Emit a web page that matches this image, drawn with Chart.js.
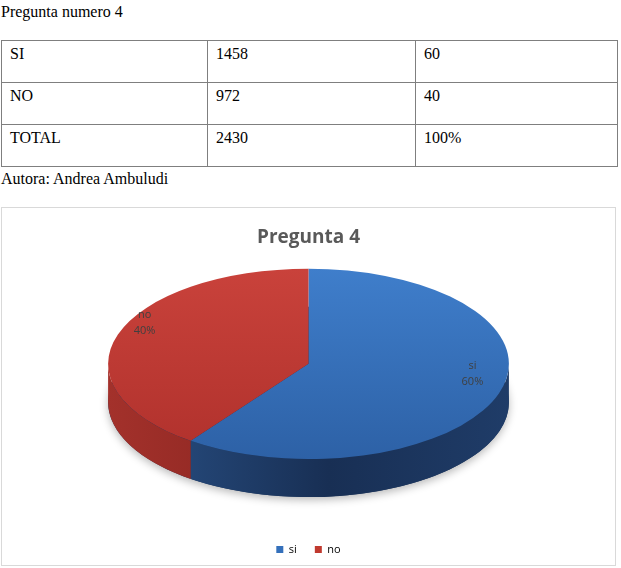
<!DOCTYPE html>
<html>
<head>
<meta charset="utf-8">
<script src="https://cdn.jsdelivr.net/npm/chart.js@4/dist/chart.umd.min.js"></script>
<style>
  body { margin: 0; background: #fff; font-family: "Liberation Serif", serif; }
  #heading { position: absolute; left: 1px; top: 3px; font-size: 16px; color: #000; }
  #dataTable { position: absolute; left: 1px; top: 40px; width: 616px; border-collapse: collapse; font-size: 16px; table-layout: fixed; }
  #dataTable td { border: 1px solid #7f7f7f; height: 42px; padding: 4px 8px 0 8px; vertical-align: top; box-sizing: border-box; }
  #author { position: absolute; left: 1px; top: 170px; font-size: 16px; }
  #chartBox { position: absolute; left: 1px; top: 207px; width: 613px; height: 357px; border: 1px solid #d9d9d9; }
</style>
</head>
<body>
<div id="heading">Pregunta numero 4</div>
<table id="dataTable">
  <colgroup><col style="width:206px"><col style="width:208px"><col style="width:202px"></colgroup>
</table>
<div id="author">Autora: Andrea Ambuludi</div>
<div id="chartBox"><canvas id="pieChart" width="613" height="357"></canvas></div>

<script>
// Table values
const tableLabels = ["SI", "NO", "TOTAL"];
const tableCounts = [1458, 972, 2430];
const tablePercents = ["60", "40", "100%"];

// Chart values
const categories = ["si", "no"];
const percents = [60, 40];

// Colours: top face [light, dark], side [left, middle, right]
const topColors = [["#3f7ecb", "#2d61a6"], ["#c9423b", "#b0312c"]];
const sideColors = [["#2a5288", "#182f54", "#1f3c68"], ["#a3312b", "#8c2621", "#8c2621"]];
const legendColors = ["#3470bb", "#c0392f"];

// Projection of the flat pie into a tilted disc
const STRETCH = 1.5;  // horizontal radius / library radius
const TILT = 0.475;   // vertical / horizontal radius
const DEPTH = 0.19;   // thickness / horizontal radius
const LIFT = 0.75;    // how far the disc is raised, in thicknesses

// Build the table
const table = document.getElementById("dataTable");
tableLabels.forEach((label, i) => {
  const row = table.insertRow();
  [label, tableCounts[i], tablePercents[i]].forEach((v) => {
    const cell = row.insertCell();
    cell.textContent = v;
  });
});

// Draws the side of the disc, then tilts the library's own arcs
const pie3d = {
  id: "pie3d",
  beforeDatasetsDraw(chart) {
    const { ctx } = chart;
    const meta = chart.getDatasetMeta(0);
    if (!meta.data || meta.data.length === 0) return;
    const first = meta.data[0];
    const R = first.outerRadius;
    const x = first.x;
    const y = first.y;
    const rx = R * STRETCH;
    const ry = rx * TILT;
    const depth = rx * DEPTH;
    const cy = y - depth * LIFT;
    chart.$proj = { x, cy, rx, ry, depth };

    ctx.save();
    ctx.translate(x, cy);
    ctx.scale(rx / R, ry / R);
    ctx.translate(-x, -y);
    const d = depth / (ry / R);

    // soft shadow under the disc
    ctx.save();
    ctx.shadowColor = "rgba(0,0,0,0.28)";
    ctx.shadowBlur = 8;
    ctx.shadowOffsetY = 3;
    ctx.beginPath();
    ctx.ellipse(x, y + d, R, R, 0, 0, Math.PI * 2);
    ctx.fillStyle = "#1b3358";
    ctx.fill();
    ctx.restore();

    meta.data.forEach((arc, i) => {
      const s = Math.max(arc.startAngle, 0);
      const e = Math.min(arc.endAngle, Math.PI);
      if (e <= s) return;
      const g = ctx.createLinearGradient(x - R, 0, x + R, 0);
      const c = sideColors[i];
      g.addColorStop(0, c[0]);
      g.addColorStop(i === 0 ? 0.55 : 0.4, c[1]);
      g.addColorStop(1, c[2]);
      ctx.beginPath();
      ctx.arc(x, y, R, s, e);
      ctx.arc(x, y + d, R, e, s, true);
      ctx.closePath();
      ctx.fillStyle = g;
      ctx.fill();
    });
  },
  afterDatasetsDraw(chart) {
    const { ctx } = chart;
    ctx.restore();
    const p = chart.$proj;
    if (!p) return;
    const meta = chart.getDatasetMeta(0);
    ctx.save();
    ctx.fillStyle = "#404040";
    ctx.font = '11px "Open Sans"';
    ctx.textAlign = "center";
    ctx.textBaseline = "middle";
    meta.data.forEach((arc, i) => {
      const mid = (arc.startAngle + arc.endAngle) / 2;
      const lx = p.x + p.rx * Math.cos(mid) * 0.86;
      const ly = p.cy - p.ry * 0.16 + p.ry * Math.sin(mid) * 0.86;
      ctx.fillText(categories[i], lx, ly - 8);
      ctx.fillText(percents[i] + "%", lx, ly + 8);
    });
    ctx.restore();
  },
};

const pieChart = new Chart(document.getElementById("pieChart"), {
  type: "pie",
  data: {
    labels: categories,
    datasets: [
      {
        data: percents,
        borderWidth: 0,
        backgroundColor: (c) => {
          const area = c.chart.chartArea;
          const cols = topColors[c.dataIndex];
          if (!area) return cols[0];
          const g = c.chart.ctx.createLinearGradient(0, area.top, 0, area.bottom);
          g.addColorStop(0, cols[0]);
          g.addColorStop(1, cols[1]);
          return g;
        },
      },
    ],
  },
  options: {
    responsive: false,
    animation: false,
    layout: { padding: 0 },
    plugins: {
      title: {
        display: true,
        text: "Pregunta 4",
        color: "#595959",
        font: { family: "Open Sans", size: 19, weight: "bold" },
        padding: { top: 18, bottom: 10 },
      },
      legend: {
        position: "bottom",
        labels: {
          boxWidth: 7,
          boxHeight: 7,
          padding: 18,
          color: "#595959",
          font: { family: "Open Sans", size: 11 },
          generateLabels: () =>
            categories.map((name, i) => ({
              text: name,
              fillStyle: legendColors[i],
              strokeStyle: legendColors[i],
              lineWidth: 0,
              index: i,
            })),
        },
      },
      tooltip: { enabled: false },
    },
  },
  plugins: [pie3d],
});
</script>
</body>
</html>
